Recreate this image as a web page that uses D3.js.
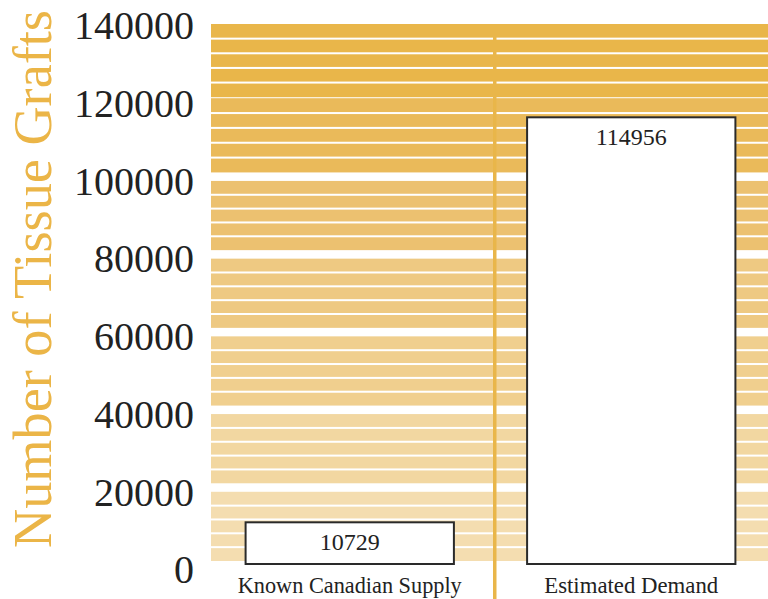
<!DOCTYPE html>
<html>
<head>
<meta charset="utf-8">
<script src="https://cdn.jsdelivr.net/npm/d3@7"></script>
<style>
  html, body { margin: 0; padding: 0; background: #fff; }
  svg { display: block; }
  text { font-family: "Liberation Serif", "Times New Roman", serif; }
</style>
</head>
<body>
<svg id="chart" width="768" height="599"></svg>
<script>
// Tissue graft supply vs. demand
const categories = ["Known Canadian Supply", "Estimated Demand"];
const values = [10729, 114956];
const yTicks = [0, 20000, 40000, 60000, 80000, 100000, 120000, 140000];
// background band colours, bottom band first
const bandColors = ["#f4ddb0", "#f2d7a1", "#f0cf8e", "#eec982", "#ecc170", "#eaba5a", "#e9b64a"];
const axisTitle = "Number of Tissue Grafts";

const W = 768, H = 599;
const svg = d3.select("#chart");

const plotLeft = 211, plotRight = 768;

const y = d3.scaleLinear().domain([0, 140000]).range([564, 20]);
const x = d3.scaleBand().domain(categories).range([209, 772])
  .paddingInner(0.26).paddingOuter(0.13);

// striped background: one band per tick interval, five stripes each
const bands = d3.pairs(yTicks).map(([lo, hi], i) => ({ lo, hi, color: bandColors[i] }));
const bg = svg.append("g");
bands.forEach(b => {
  const top = y(b.hi) + (b.hi === 140000 ? 4 : b.hi === 120000 ? 0.5 : 5.5);
  const bottom = y(b.lo) - (b.lo === 120000 ? 0.5 : 3);
  bg.append("rect")
    .attr("x", plotLeft).attr("y", top)
    .attr("width", plotRight - plotLeft).attr("height", bottom - top)
    .attr("fill", b.color);
  const h = (bottom - top) / 5;
  for (let k = 1; k < 5; k++) {
    bg.append("rect")
      .attr("x", plotLeft).attr("y", top + k * h - 1)
      .attr("width", plotRight - plotLeft).attr("height", 2)
      .attr("fill", "#fff");
  }
});

// divider between the two categories
svg.append("rect")
  .attr("x", 493).attr("y", y(140000) + 4)
  .attr("width", 3.5).attr("height", H - y(140000))
  .attr("fill", "#e9b64a");

// bars
svg.append("g").selectAll("rect")
  .data(categories)
  .join("rect")
  .attr("x", d => x(d))
  .attr("y", (d, i) => y(values[i]))
  .attr("width", x.bandwidth())
  .attr("height", (d, i) => y(0) - y(values[i]))
  .attr("fill", "#fff")
  .attr("stroke", "#2a2a2a")
  .attr("stroke-width", 2);

// value labels inside the bars
svg.append("g").selectAll("text")
  .data(categories)
  .join("text")
  .attr("x", d => x(d) + x.bandwidth() / 2)
  .attr("y", (d, i) => y(values[i]) + 28)
  .attr("text-anchor", "middle")
  .attr("font-size", 24)
  .attr("fill", "#222")
  .text((d, i) => values[i]);

// y axis labels
const yAxis = d3.axisLeft(y).tickValues(yTicks).tickSize(0).tickPadding(0)
  .tickFormat(d3.format("d"));
const gy = svg.append("g").attr("transform", "translate(194,6)").call(yAxis);
gy.select(".domain").remove();
gy.selectAll("text")
  .attr("font-family", "Liberation Serif, serif")
  .attr("font-size", 40)
  .attr("fill", "#222");

// category labels
svg.append("g").selectAll("text")
  .data(categories)
  .join("text")
  .attr("x", d => x(d) + x.bandwidth() / 2)
  .attr("y", 593)
  .attr("text-anchor", "middle")
  .attr("font-size", 23)
  .attr("fill", "#222")
  .attr("textLength", (d, i) => i === 0 ? 224 : 174)
  .attr("lengthAdjust", "spacingAndGlyphs")
  .text(d => d);

// axis title
svg.append("text")
  .attr("transform", "translate(51,279) rotate(-90)")
  .attr("text-anchor", "middle")
  .attr("font-size", 55)
  .attr("fill", "#ebb547")
  .attr("textLength", 538)
  .attr("lengthAdjust", "spacingAndGlyphs")
  .text(axisTitle);
</script>
</body>
</html>
